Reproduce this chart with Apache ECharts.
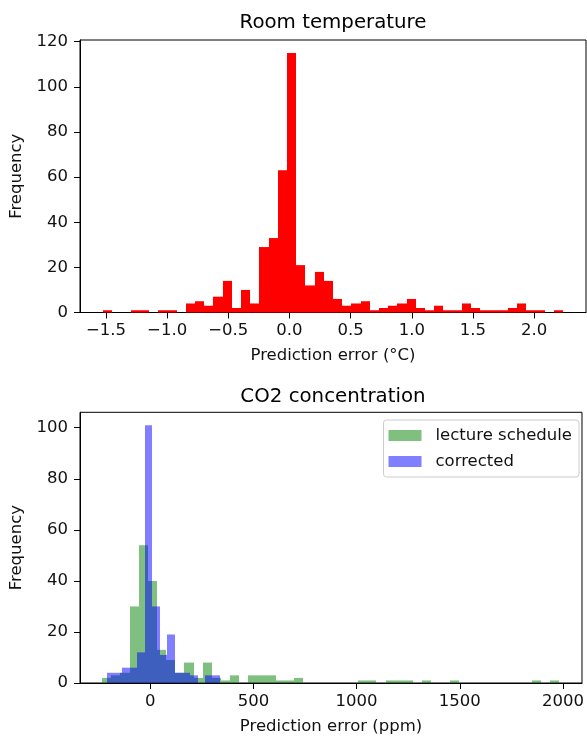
<!DOCTYPE html>
<html><head><meta charset="utf-8">
<script src="https://cdn.jsdelivr.net/npm/echarts@6/dist/echarts.min.js"></script>
<style>html,body{margin:0;padding:0;background:#fff}#c{width:587px;height:736px}</style>
</head><body><div id="c"></div>
<script>
// ---- Room temperature histogram (50 bins) ----
const tempBinStart = -1.5245;
const tempBinWidth = 0.07521;
const tempCounts = [1,0,0,1,1,0,1,1,0,4, 5,3,7,14,2,10,4,29,33,63, 115,21,12,18,14,6,3,4,5,1, 2,3,4,6,2,1,3,1,1,4, 2,1,1,1,2,4,1,1,0,1];
const tempXTicks = [-1.5,-1.0,-0.5,0.0,0.5,1.0,1.5,2.0];
const tempYTicks = [0,20,40,60,80,100,120];

// ---- CO2 concentration histograms ----
const co2LectureBinStart = -233;
const co2LectureBinWidth = 44.3;
const co2LectureCounts = [2,3,4,30,54,40,13,9,4,8, 2,8,2,1,3,0,3,3,3,1, 1,2,0,0,0,0,0,0,1,1, 0,1,1,1,0,1,0,0,1,0, 0,0,0,0,0,0,0,1,0,1];
const co2CorrectedBinStart = -208.6;
const co2CorrectedBinWidth = 36.53;
const co2CorrectedCounts = [4,4,6,6,12,101,30,11,19,4,4,3,0,3,3];
const co2XTicks = [0,500,1000,1500,2000];
const co2YTicks = [0,20,40,60,80,100];

function bins(start, width, counts){
  const out = [];
  counts.forEach((c,i)=>{ if(c>0) out.push([start+i*width, start+(i+1)*width, c]); });
  return out;
}
function render(color){
  return function(params, api){
    const a = api.coord([api.value(0), api.value(2)]);
    const b = api.coord([api.value(1), 0]);
    const x0 = Math.round(a[0]), x1 = Math.round(b[0]);
    return {type:'rect', shape:{x:x0, y:a[1], width:x1-x0, height:b[1]-a[1]}, style:{fill:color}};
  };
}
const FONT = 'DejaVu Sans';
const txt = {fontFamily: FONT, fontSize: 16.5, color: '#111'};
const fmt1 = v => (v<0?'\u2212':'') + Math.abs(v).toFixed(1);
function xAxis(grid, min, max, ticks, fmt, name){
  return {gridIndex:grid, type:'value', min, max,
    axisLine:{show:true, onZero:false, lineStyle:{color:'#000', width:1}},
    axisTick:{show:true, length:6, customValues:ticks, lineStyle:{color:'#000', width:1}},
    axisLabel:Object.assign({customValues:ticks, formatter:fmt, margin:10}, txt),
    splitLine:{show:false},
    name, nameLocation:'middle', nameGap:35, nameTextStyle:Object.assign({}, txt)};
}
function yAxis(grid, max, ticks){
  return {gridIndex:grid, type:'value', min:0, max,
    axisLine:{show:true, onZero:false, lineStyle:{color:'#000', width:1}},
    axisTick:{show:true, length:6, customValues:ticks, lineStyle:{color:'#000', width:1}},
    axisLabel:Object.assign({customValues:ticks, margin:12}, txt),
    splitLine:{show:false},
    name:'Frequency', nameLocation:'middle', nameGap:46, nameRotate:90, nameTextStyle:Object.assign({}, txt)};
}

const chart = echarts.init(document.getElementById('c'), null, {renderer:'canvas'});
chart.setOption({
  animation:false,
  backgroundColor:'#fff',
  graphic:[
    {type:'text', x:333, y:13, style:{text:'Room temperature', font:'19.8px "DejaVu Sans"', fill:'#000', textAlign:'center', textVerticalAlign:'top'}},
    {type:'text', x:333, y:387, style:{text:'CO2 concentration', font:'19.8px "DejaVu Sans"', fill:'#000', textAlign:'center', textVerticalAlign:'top'}}
  ],
  grid:[
    {left:80, right:1, top:40, bottom:423.5, show:true, borderColor:'#000', borderWidth:1, backgroundColor:'transparent'},
    {left:80, right:1, top:412.3, bottom:51, show:true, borderColor:'#000', borderWidth:1, backgroundColor:'transparent'}
  ],
  xAxis:[
    xAxis(0, -1.7125, 2.424, tempXTicks, fmt1, 'Prediction error (°C)'),
    xAxis(1, -340, 2092, co2XTicks, v => String(v), 'Prediction error (ppm)')
  ],
  yAxis:[ yAxis(0, 120.75, tempYTicks), yAxis(1, 106.05, co2YTicks) ],
  legend:{
    data:['lecture schedule','corrected'], orient:'vertical', right:8, top:420,
    icon:'rect', itemWidth:33, itemHeight:11, itemGap:9,
    padding:[7,7,7,5], borderColor:'#ccc', borderWidth:1, borderRadius:3,
    backgroundColor:'rgba(255,255,255,0.8)',
    textStyle:{fontFamily:FONT, fontSize:16.5, color:'#111', lineHeight:16, padding:[0,0,0,9]}
  },
  series:[
    {type:'custom', name:'Room temperature', xAxisIndex:0, yAxisIndex:0, encode:{x:[0,1], y:2},
     itemStyle:{color:'#ff0000'}, data:bins(tempBinStart, tempBinWidth, tempCounts), renderItem:render('#ff0000')},
    {type:'custom', name:'lecture schedule', xAxisIndex:1, yAxisIndex:1, encode:{x:[0,1], y:2},
     itemStyle:{color:'rgba(0,128,0,0.5)'}, data:bins(co2LectureBinStart, co2LectureBinWidth, co2LectureCounts), renderItem:render('rgba(0,128,0,0.5)')},
    {type:'custom', name:'corrected', xAxisIndex:1, yAxisIndex:1, encode:{x:[0,1], y:2},
     itemStyle:{color:'rgba(0,0,255,0.5)'}, data:bins(co2CorrectedBinStart, co2CorrectedBinWidth, co2CorrectedCounts), renderItem:render('rgba(0,0,255,0.5)')}
  ]
});
</script></body></html>
